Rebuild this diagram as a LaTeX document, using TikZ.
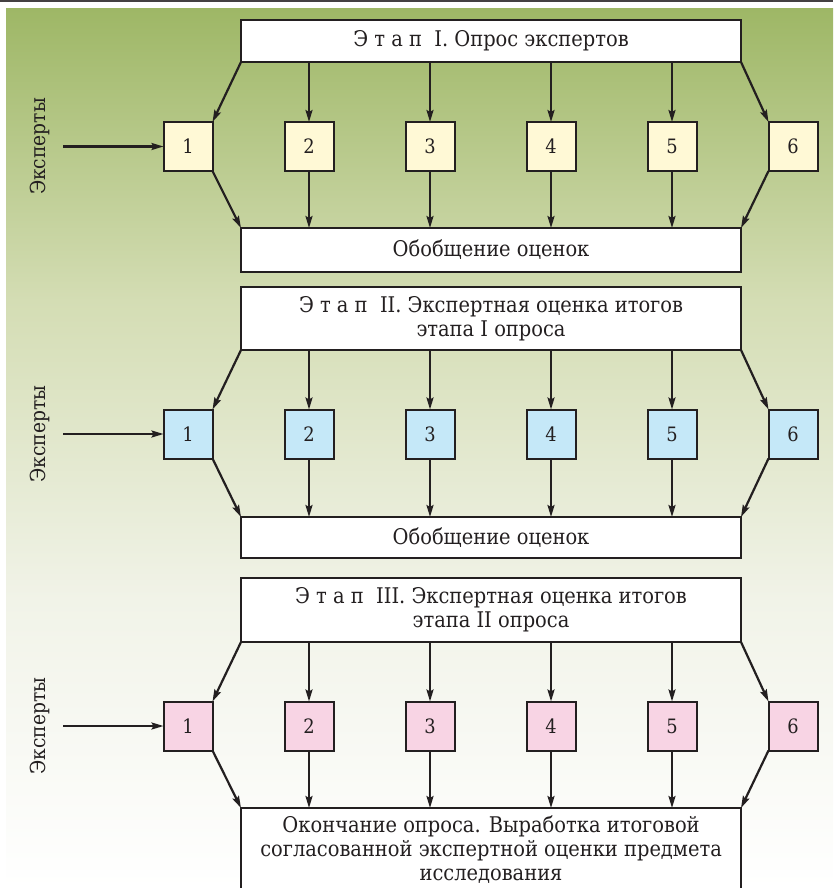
\documentclass[tikz,border=0pt]{standalone}
\usepackage{fontspec}
\setmainfont{Liberation Serif}
\newfontfamily\srf[Scale=0.9]{DejaVu Serif Condensed}
\usetikzlibrary{arrows.meta}
\definecolor{bgA}{RGB}{158,183,102}
\definecolor{bgB}{RGB}{212,221,180}
\definecolor{bgC}{RGB}{241,243,232}
\definecolor{yel}{RGB}{255,249,214}
\definecolor{blu}{RGB}{197,232,248}
\definecolor{pnk}{RGB}{248,212,228}
\definecolor{ink}{RGB}{35,31,32}
\pgfdeclareverticalshading{bgshade}{100bp}{color(0bp)=(white); color(25bp)=(white); color(41.4bp)=(bgC); color(58.4bp)=(bgB); color(75bp)=(bgA); color(100bp)=(bgA)}
\newcommand{\mkrow}[3]{%
  \foreach \i/\x in {1/188,2/309,3/430,4/551,5/672,6/793}{\node[numbox, fill=#3] (#1\i) at (\x,#2) {\i};}
  \draw[arr] (#1t.south west) -- (#11.north east);
  \draw[arr] (#1t.south east) -- (#16.north west);
  \foreach \i in {2,...,5}{\draw[arr] (#1t.south -| #1\i) -- (#1\i.north);
    \draw[arr] (#1\i.south) -- (#1b.north -| #1\i);}
  \draw[arr] (#11.south east) -- (#1b.north west);
  \draw[arr] (#16.south west) -- (#1b.north east);
  \coordinate (#1in) at (63,#2);
  \draw[arr] (#1in) -- (#11.west);
  \node[lab] (#1lab) at (40,#2) {Эксперты};
}
\begin{document}
\begin{tikzpicture}[x=1pt,y=-1pt,
  big/.style={draw=ink, fill=white, line width=2pt, minimum width=500pt, inner sep=0pt, outer sep=0pt, align=center, font=\srf\fontsize{24}{24}\selectfont, text=ink},
  numbox/.style={draw=ink, line width=2pt, minimum size=49pt, inner sep=0pt, outer sep=0pt, font=\srf\fontsize{22}{22}\selectfont, text=ink},
  arr/.style={draw=ink, line width=2.2pt, -{Stealth[length=12pt,width=7pt,inset=2pt]}},
  lab/.style={rotate=90, font=\srf\fontsize{23}{23}\selectfont, text=ink}]
\useasboundingbox (0,0) rectangle (833,888);
\clip (0,0) rectangle (833,888);
\fill[white] (0,0) rectangle (833,888);
\shade[shading=bgshade] (6,9) rectangle (833,888);
\draw[line width=2pt, ink!85] (0,1) -- (833,1);
% Stage I
\node[big, minimum height=42pt] (at) at (491,41) {Э т а п\ \ I. Опрос экспертов};
\node[big, minimum height=44pt] (ab) at (491,250) {Обобщение оценок};
\mkrow{a}{146.5}{yel}
% Stage II
\node[big, minimum height=63pt] (bt) at (491,318.5) {Э т а п\ \ II. Экспертная оценка итогов\\этапа I опроса};
\node[big, minimum height=41pt] (bb) at (491,537.5) {Обобщение оценок};
\mkrow{b}{434}{blu}
% Stage III
\node[big, minimum height=64pt] (ct) at (491,610) {Э т а п\ \ III. Экспертная оценка итогов\\этапа II опроса};
\node[big, minimum height=84pt, anchor=north] (cb) at (491,808) {Окончание опроса. Выработка итоговой\\согласованной экспертной оценки предмета\\исследования};
\mkrow{c}{726}{pnk}
\end{tikzpicture}
\end{document}
